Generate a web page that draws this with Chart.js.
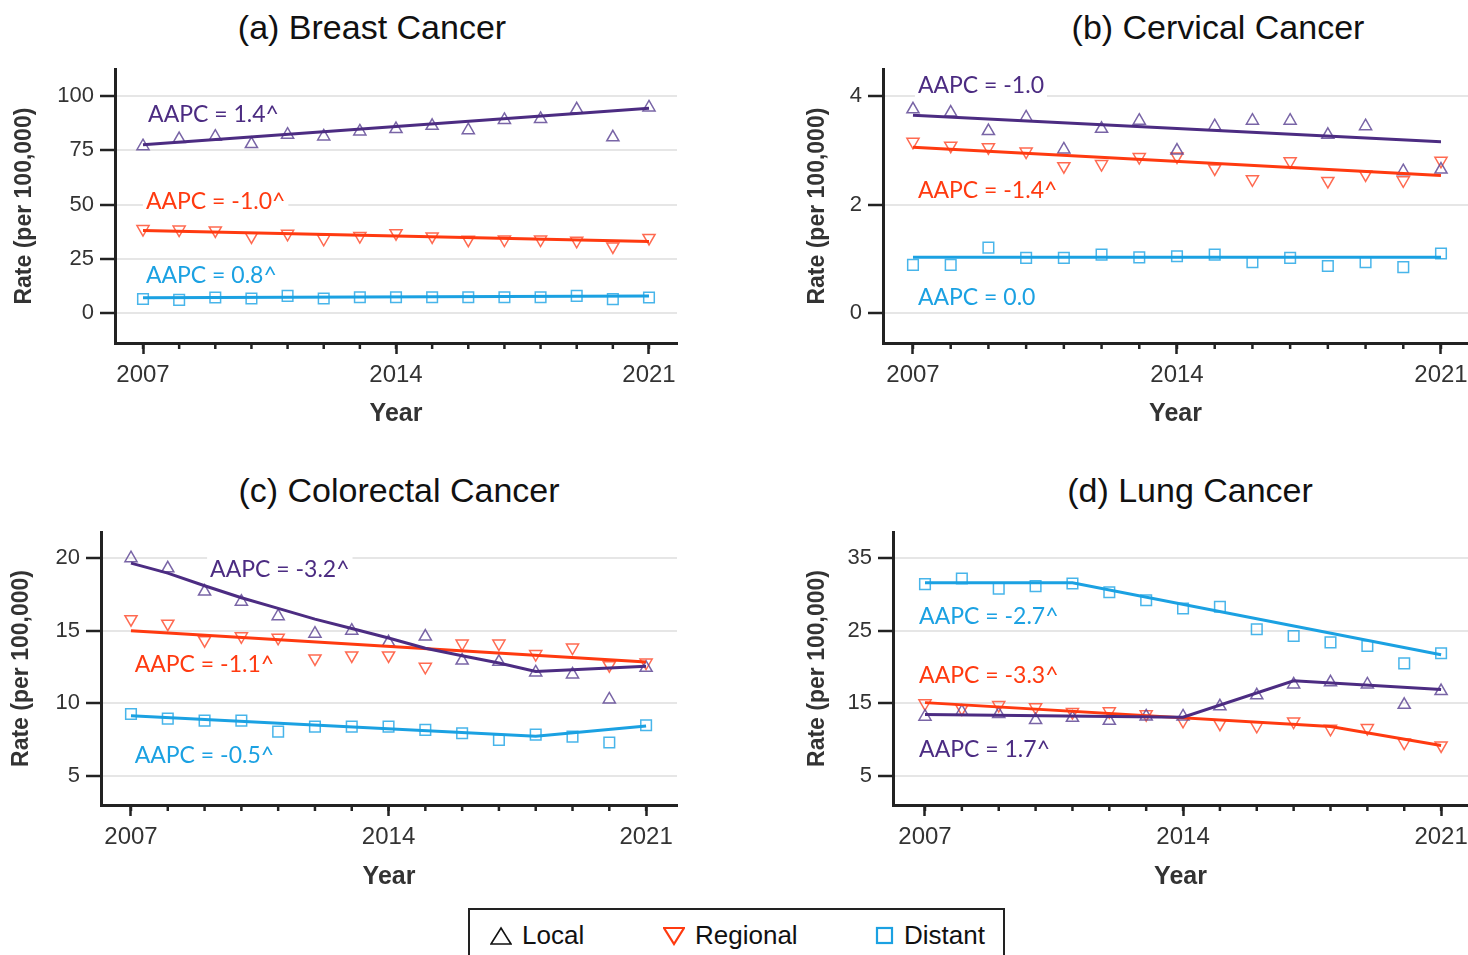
<!DOCTYPE html>
<html>
<head>
<meta charset="utf-8">
<script src="https://cdn.jsdelivr.net/npm/chart.js@4"></script>
<style>
  body { margin: 0; background: #fff; width: 1468px; height: 955px; position: relative; overflow: hidden;
         font-family: "Liberation Sans", Arial, sans-serif; }
  .ptitle { position: absolute; font-size: 34px; color: #111; white-space: nowrap;
            transform: translate(-50%, -50%); line-height: 40px; }
  canvas { position: absolute; }
  #legend { position: absolute; left: 468px; top: 908px; width: 533px; height: 60px;
            border: 2px solid #222; border-bottom: none; }
  .item { position: absolute; top: 10px; font-size: 26px; color: #111; display: flex; align-items: center; }
  .item svg { margin-right: 10px; }
</style>
</head>
<body>

<div class="ptitle" style="left:372px; top:27px">(a) Breast Cancer</div>
<div class="ptitle" style="left:1218px; top:27px">(b) Cervical Cancer</div>
<div class="ptitle" style="left:399px; top:490px">(c) Colorectal Cancer</div>
<div class="ptitle" style="left:1190px; top:490px">(d) Lung Cancer</div>

<canvas id="chartA" width="690" height="390" style="left:0; top:50px"></canvas>
<canvas id="chartB" width="700" height="390" style="left:790px; top:50px"></canvas>
<canvas id="chartC" width="690" height="390" style="left:0; top:510px"></canvas>
<canvas id="chartD" width="700" height="390" style="left:790px; top:510px"></canvas>

<div id="legend">
  <div class="item" style="left:20px">
    <svg width="22" height="20"><polygon points="11,2 21,18 1,18" fill="none" stroke="#111" stroke-width="1.6"/></svg>Local</div>
  <div class="item" style="left:193px">
    <svg width="22" height="20"><polygon points="1,2 21,2 11,18" fill="none" stroke="#ff3a10" stroke-width="2.2"/></svg>Regional</div>
  <div class="item" style="left:405px">
    <svg width="19" height="20"><rect x="2" y="2" width="15" height="15" fill="none" stroke="#1ba1e2" stroke-width="2.2"/></svg>Distant</div>
</div>

<script>
const years = [2007, 2008, 2009, 2010, 2011, 2012, 2013, 2014, 2015, 2016, 2017, 2018, 2019, 2020, 2021];
const yearLabels = [2007, 2014, 2021];

// (a) Breast
const breastLocal    = [76.9, 80.2, 81.3, 77.9, 82.2, 81.4, 83.7, 84.8, 86.3, 84.3, 89.0, 89.5, 93.9, 81.0, 94.8];
const breastRegional = [38.7, 38.5, 38.1, 35.3, 36.5, 34.2, 35.5, 36.8, 35.3, 33.8, 33.9, 33.9, 33.3, 30.7, 34.6];
const breastDistant  = [6.5, 6.1, 7.2, 6.7, 7.9, 6.7, 7.3, 7.3, 7.3, 7.3, 7.3, 7.3, 7.9, 6.4, 7.2];
const breastLocalFit    = [[2007, 77.6], [2021, 94.4]];
const breastRegionalFit = [[2007, 38.1], [2021, 33.0]];
const breastDistantFit  = [[2007, 7.0], [2021, 7.9]];
const breastTicks = [0, 25, 50, 75, 100];
const breastAapc = ["AAPC = 1.4^", "AAPC = -1.0^", "AAPC = 0.8^"];

// (b) Cervical
const cervixLocal    = [3.76, 3.70, 3.36, 3.61, 3.02, 3.40, 3.55, 3.00, 3.45, 3.55, 3.55, 3.29, 3.45, 2.62, 2.65];
const cervixRegional = [3.16, 3.09, 3.06, 2.98, 2.71, 2.75, 2.88, 2.89, 2.67, 2.47, 2.80, 2.44, 2.56, 2.45, 2.81];
const cervixDistant  = [0.89, 0.89, 1.21, 1.02, 1.02, 1.08, 1.03, 1.05, 1.08, 0.94, 1.02, 0.87, 0.94, 0.85, 1.10];
const cervixLocalFit    = [[2007, 3.65], [2021, 3.16]];
const cervixRegionalFit = [[2007, 3.06], [2021, 2.54]];
const cervixDistantFit  = [[2007, 1.03], [2021, 1.03]];
const cervixTicks = [0, 2, 4];
const cervixAapc = ["AAPC = -1.0", "AAPC = -1.4^", "AAPC = 0.0"];

// (c) Colorectal
const crcLocal    = [20.0, 19.3, 17.7, 17.0, 16.0, 14.8, 15.0, 14.2, 14.6, 12.95, 12.86, 12.13, 11.99, 10.27, 12.45];
const crcRegional = [15.8, 15.49, 14.35, 14.62, 14.51, 13.09, 13.3, 13.3, 12.52, 14.12, 14.12, 13.39, 13.84, 12.63, 12.81];
const crcDistant  = [9.27, 8.95, 8.81, 8.81, 8.05, 8.4, 8.4, 8.4, 8.17, 7.94, 7.48, 7.85, 7.71, 7.3, 8.49];
const crcLocalFit    = [[2007, 19.66], [2008, 18.97], [2009, 18.1], [2010, 17.27], [2011, 16.54], [2012, 15.8],
                        [2013, 15.16], [2014, 14.5], [2015, 13.8], [2016, 13.28], [2017, 12.78], [2018, 12.2], [2021, 12.55]];
const crcRegionalFit = [[2007, 15.0], [2021, 12.85]];
const crcDistantFit  = [[2007, 9.15], [2018, 7.73], [2021, 8.44]];
const crcTicks = [5, 10, 15, 20];
const crcAapc = ["AAPC = -3.2^", "AAPC = -1.1^", "AAPC = -0.5^"];

// (d) Lung
const lungLocal    = [13.17, 13.85, 13.53, 12.7, 13.0, 12.6, 13.2, 13.2, 14.6, 16.1, 17.6, 17.9, 17.6, 14.8, 16.7];
const lungRegional = [15.0, 14.3, 14.77, 14.45, 13.8, 13.9, 13.5, 12.6, 12.2, 11.9, 12.5, 11.5, 11.6, 9.6, 9.2];
const lungDistant  = [31.42, 32.2, 30.8, 31.15, 31.5, 30.3, 29.2, 28.07, 28.3, 25.2, 24.27, 23.4, 22.9, 20.5, 21.9];
const lungLocalFit    = [[2007, 13.45], [2014, 13.1], [2017, 18.1], [2021, 16.9]];
const lungRegionalFit = [[2007, 15.1], [2018, 11.8], [2021, 9.2]];
const lungDistantFit  = [[2007, 31.6], [2011, 31.6], [2021, 21.7]];
const lungTicks = [5, 15, 25, 35];
const lungAapc = ["AAPC = 1.7^", "AAPC = -3.3^", "AAPC = -2.7^"];

const PURPLE = "#4c2c82", RED = "#ff3a10", BLUE = "#1ba1e2";
const series = [
  { line: PURPLE, marker: "rgba(98,74,150,0.85)", style: "triangle", rot: 0, r: 7 },
  { line: RED,    marker: "rgba(255,80,50,0.85)", style: "triangle", rot: 180, r: 7 },
  { line: BLUE,   marker: "rgba(40,168,230,0.85)", style: "rect", rot: 0, r: 7.5 }
];

Chart.defaults.font.family = '"Liberation Sans", Arial, sans-serif';
Chart.defaults.color = "#333";

// AAPC text drawn at data coordinates, under the marks
const aapcLabels = {
  id: "aapcLabels",
  beforeDatasetsDraw(chart, args, opts) {
    const { ctx, scales: { x, y } } = chart;
    ctx.save();
    ctx.font = "23px Lato";
    ctx.textBaseline = "middle";
    opts.items.forEach(it => {
      const px = x.getPixelForValue(it.x), py = y.getPixelForValue(it.y);
      const w = ctx.measureText(it.text).width;
      ctx.fillStyle = "#fff";
      ctx.fillRect(px - 3, py - 13, w + 6, 26);
      ctx.fillStyle = it.color;
      ctx.fillText(it.text, px, py);
    });
    ctx.restore();
  }
};

// short ticks for every year
const minorTicks = {
  id: "minorTicks",
  afterDraw(chart) {
    const { ctx, chartArea, scales: { x } } = chart;
    ctx.save();
    ctx.strokeStyle = "#222";
    ctx.lineWidth = 2.5;
    years.forEach(yr => {
      const px = x.getPixelForValue(yr);
      ctx.beginPath();
      ctx.moveTo(px, chartArea.bottom);
      ctx.lineTo(px, chartArea.bottom + 6);
      ctx.stroke();
    });
    ctx.restore();
  }
};

function makePanel(id, p) {
  const pts = [p.local, p.regional, p.distant];
  const fits = [p.localFit, p.regionalFit, p.distantFit];
  const datasets = [];
  series.forEach((s, i) => datasets.push({
    data: fits[i].map(([x, y]) => ({ x, y })),
    borderColor: s.line, borderWidth: 3, pointRadius: 0, tension: 0, fill: false
  }));
  series.forEach((s, i) => datasets.push({
    data: years.map((x, j) => ({ x, y: pts[i][j] })),
    showLine: false, pointStyle: s.style, pointRotation: s.rot, pointRadius: s.r,
    pointBorderColor: s.marker, pointBackgroundColor: "rgba(0,0,0,0)", pointBorderWidth: 1.5
  }));

  new Chart(document.getElementById(id), {
    type: "line",
    data: { datasets },
    options: {
      responsive: false, animation: false, events: [], devicePixelRatio: 1,
      layout: { padding: p.pad },
      plugins: {
        legend: { display: false }, tooltip: { enabled: false },
        aapcLabels: { items: p.labels.map((l, i) => ({ text: p.aapc[i], x: l[0], y: l[1], color: series[i].line })) }
      },
      scales: {
        x: {
          type: "linear", min: p.xMin, max: p.xMax,
          afterBuildTicks: s => { s.ticks = yearLabels.map(v => ({ value: v })); },
          afterFit: s => { s.height = p.xH; },
          ticks: { callback: v => String(v), font: { size: 24 }, color: "#333", padding: 7, maxRotation: 0, autoSkip: false },
          grid: { drawOnChartArea: false, tickColor: "#222", tickLength: 11, tickWidth: 2.5 },
          border: { color: "#222", width: 3 },
          title: { display: true, text: "Year", font: { size: 25, weight: "bold" }, color: "#333", padding: { top: 0, bottom: p.xTitlePad } }
        },
        y: {
          min: p.yMin, max: p.yMax,
          afterBuildTicks: s => { s.ticks = p.yTicks.map(v => ({ value: v })); },
          afterFit: s => { s.width = p.yW; },
          ticks: { font: { size: 22 }, color: "#333", padding: 6 },
          grid: { color: "#e6e6e6", lineWidth: 2, tickColor: "#222", tickLength: 15, tickWidth: 2.5 },
          border: { color: "#222", width: 3 },
          title: { display: true, text: "Rate (per 100,000)", font: { size: 23, weight: "bold" }, color: "#333", padding: { top: p.yTitlePad, bottom: 0 } }
        }
      }
    },
    plugins: [aapcLabels, minorTicks]
  });
}

makePanel("chartA", {
  local: breastLocal, regional: breastRegional, distant: breastDistant,
  localFit: breastLocalFit, regionalFit: breastRegionalFit, distantFit: breastDistantFit,
  yTicks: breastTicks, aapc: breastAapc, labels: [[2007.14, 91.7], [2007.08, 51.4], [2007.08, 17.4]],
  xMin: 2006.225, xMax: 2021.775, yMin: -13.8, yMax: 112.4,
  pad: { top: 18, right: 13, left: 0, bottom: 0 }, yW: 115, xH: 97, yTitlePad: 11, xTitlePad: 11
});
makePanel("chartB", {
  local: cervixLocal, regional: cervixRegional, distant: cervixDistant,
  localFit: cervixLocalFit, regionalFit: cervixRegionalFit, distantFit: cervixDistantFit,
  yTicks: cervixTicks, aapc: cervixAapc, labels: [[2007.13, 4.2], [2007.13, 2.26], [2007.13, 0.28]],
  xMin: 2006.205, xMax: 2021.716, yMin: -0.55, yMax: 4.5,
  pad: { top: 18, right: 22, left: 0, bottom: 0 }, yW: 93, xH: 97, yTitlePad: 14, xTitlePad: 11
});
makePanel("chartC", {
  local: crcLocal, regional: crcRegional, distant: crcDistant,
  localFit: crcLocalFit, regionalFit: crcRegionalFit, distantFit: crcDistantFit,
  yTicks: crcTicks, aapc: crcAapc, labels: [[2009.15, 19.24], [2007.1, 12.64], [2007.1, 6.38]],
  xMin: 2006.185, xMax: 2021.84, yMin: 3.0, yMax: 21.8,
  pad: { top: 22, right: 13, left: 0, bottom: 0 }, yW: 101, xH: 95, yTitlePad: 8, xTitlePad: 8
});
makePanel("chartD", {
  local: lungLocal, regional: lungRegional, distant: lungDistant,
  localFit: lungLocalFit, regionalFit: lungRegionalFit, distantFit: lungDistantFit,
  yTicks: lungTicks, aapc: lungAapc, labels: [[2006.84, 8.6], [2006.84, 18.77], [2006.84, 27.0]],
  xMin: 2006.132, xMax: 2021.73, yMin: 1.0, yMax: 38.6,
  pad: { top: 22, right: 22, left: 0, bottom: 0 }, yW: 103, xH: 95, yTitlePad: 14, xTitlePad: 8
});
</script>
</body>
</html>
